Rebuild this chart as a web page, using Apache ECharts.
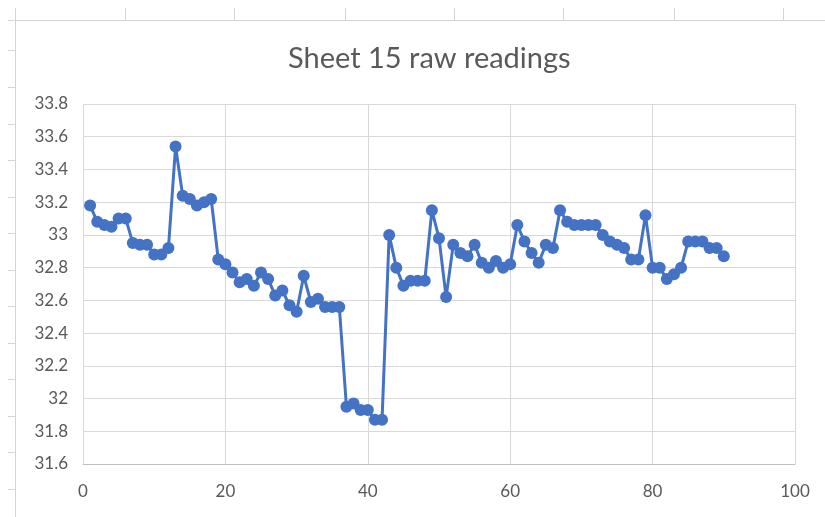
<!DOCTYPE html>
<html>
<head>
<meta charset="utf-8">
<script src="https://cdn.jsdelivr.net/npm/echarts@6/dist/echarts.min.js"></script>
<style>
  html, body { margin: 0; padding: 0; background: #ffffff; }
  #chart { width: 825px; height: 517px; }
</style>
</head>
<body>
<div id="chart"></div>
<script>
// Sample numbers (x) and the raw readings taken at each one (y)
const sampleNo = [
  1, 2, 3, 4, 5, 6, 7, 8, 9, 10,
  11, 12, 13, 14, 15, 16, 17, 18, 19, 20,
  21, 22, 23, 24, 25, 26, 27, 28, 29, 30,
  31, 32, 33, 34, 35, 36, 37, 38, 39, 40,
  41, 42, 43, 44, 45, 46, 47, 48, 49, 50,
  51, 52, 53, 54, 55, 56, 57, 58, 59, 60,
  61, 62, 63, 64, 65, 66, 67, 68, 69, 70,
  71, 72, 73, 74, 75, 76, 77, 78, 79, 80,
  81, 82, 83, 84, 85, 86, 87, 88, 89, 90
];
const readings = [
  33.18, 33.08, 33.06, 33.05, 33.10, 33.10, 32.95, 32.94, 32.94, 32.88,
  32.88, 32.92, 33.54, 33.24, 33.22, 33.18, 33.20, 33.22, 32.85, 32.82,
  32.77, 32.71, 32.73, 32.69, 32.77, 32.73, 32.63, 32.66, 32.57, 32.53,
  32.75, 32.59, 32.61, 32.56, 32.56, 32.56, 31.95, 31.97, 31.93, 31.93,
  31.87, 31.87, 33.00, 32.80, 32.69, 32.72, 32.72, 32.72, 33.15, 32.98,
  32.62, 32.94, 32.89, 32.87, 32.94, 32.83, 32.80, 32.84, 32.80, 32.82,
  33.06, 32.96, 32.89, 32.83, 32.94, 32.92, 33.15, 33.08, 33.06, 33.06,
  33.06, 33.06, 33.00, 32.96, 32.94, 32.92, 32.85, 32.85, 33.12, 32.80,
  32.80, 32.73, 32.76, 32.80, 32.96, 32.96, 32.96, 32.92, 32.92, 32.87
];
const chartTitle = 'Sheet 15 raw readings';

const points = sampleNo.map((n, i) => [n, readings[i]]);

// Faint worksheet cell lines around the chart
const sheetColor = '#d4d4d4';
const sheetLines = [];
function seg(x1, y1, x2, y2) {
  sheetLines.push({
    type: 'line', silent: true,
    shape: { x1: x1, y1: y1, x2: x2, y2: y2 },
    style: { stroke: sheetColor, lineWidth: 1 }
  });
}
seg(8, 20.5, 825, 20.5);
seg(15.5, 8, 15.5, 517);
[125.5, 234.5, 345.5, 454.5, 563.5, 674.5, 783.5].forEach(x => seg(x, 8, x, 20));
[50.5, 87.5, 124.5, 160.5, 197.5, 233.5, 270.5, 306.5, 343.5, 379.5, 416.5, 452.5, 489.5]
  .forEach(y => seg(8, y, 15, y));

const labelColor = '#595959';
const fontFam = 'Lato, "Open Sans", sans-serif';

const chart = echarts.init(document.getElementById('chart'), null, { renderer: 'canvas' });
chart.setOption({
  animation: false,
  backgroundColor: '#ffffff',
  title: {
    text: chartTitle,
    left: 283,
    top: 39,
    textStyle: { color: labelColor, fontSize: 29, fontWeight: 'normal', fontFamily: fontFam }
  },
  graphic: sheetLines,
  grid: { left: 83, right: 30, top: 104, bottom: 53, containLabel: false },
  xAxis: {
    type: 'value',
    min: 0, max: 100, interval: 20,
    axisLine: { show: true, lineStyle: { color: '#bfbfbf', width: 1 } },
    axisTick: { show: false },
    splitLine: { show: true, lineStyle: { color: '#d9d9d9', width: 1 } },
    axisLabel: { color: labelColor, fontSize: 17, fontFamily: fontFam, margin: 19 }
  },
  yAxis: {
    type: 'value',
    min: 31.6, max: 33.8, interval: 0.2,
    axisLine: { show: false },
    axisTick: { show: false },
    splitLine: { show: true, lineStyle: { color: '#d9d9d9', width: 1 } },
    axisLabel: {
      color: labelColor, fontSize: 17, fontFamily: fontFam, margin: 15,
      formatter: v => String(+v.toFixed(1))
    }
  },
  series: [{
    type: 'line',
    data: points,
    symbol: 'circle',
    symbolSize: 12,
    showAllSymbol: true,
    lineStyle: { color: '#4472c4', width: 3 },
    itemStyle: { color: '#4472c4', borderColor: '#4472c4', borderWidth: 0 }
  }]
});
</script>
</body>
</html>
